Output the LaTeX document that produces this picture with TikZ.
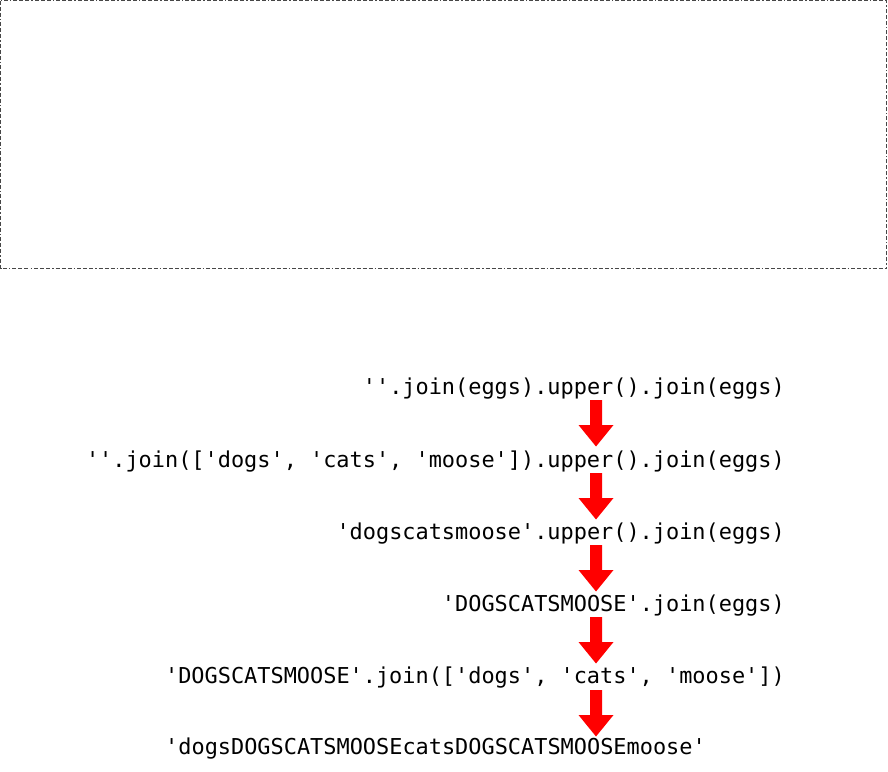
\documentclass[tikz,border=0pt]{standalone}
\usepackage{fontspec}
\setmonofont{DejaVu Sans Mono}
\begin{document}
\begin{tikzpicture}[x=1pt,y=1pt,
  code/.style={font=\ttfamily\fontsize{21.9}{24}\selectfont, inner sep=0pt, text=black},
  frame/.style={draw=black!72, line width=1.3pt, dash pattern=on 4pt off 2pt on 4pt off 2pt on 4pt off 2pt on 1.5pt off 2pt},
  bigarrow/.pic={\fill[red] (-6,0) -- (6,0) -- (6,-25) -- (17.5,-25) -- (0,-46.5) -- (-17.5,-25) -- (-6,-25) -- cycle;}]
\useasboundingbox (0,0) rectangle (888,-771);
\draw[frame] (0.8,-0.8) rectangle (886.6,-268.6);
\node[code, anchor=base east] (l1) at (785,-394) {''.join(eggs).upper().join(eggs)};
\node[code, anchor=base east] (l2) at (785,-467) {''.join(['dogs', 'cats', 'moose']).upper().join(eggs)};
\node[code, anchor=base east] (l3) at (785,-539) {'dogscatsmoose'.upper().join(eggs)};
\node[code, anchor=base east] (l4) at (785,-611) {'DOGSCATSMOOSE'.join(eggs)};
\node[code, anchor=base east] (l5) at (785,-683) {'DOGSCATSMOOSE'.join(['dogs', 'cats', 'moose'])};
\node[code, anchor=base west] (l6) at (165,-754) {'dogsDOGSCATSMOOSEcatsDOGSCATSMOOSEmoose'};
\pic at (596,-400) {bigarrow};
\pic at (596,-473) {bigarrow};
\pic at (596,-545) {bigarrow};
\pic at (596,-617) {bigarrow};
\pic at (596,-690) {bigarrow};
\end{tikzpicture}
\end{document}
